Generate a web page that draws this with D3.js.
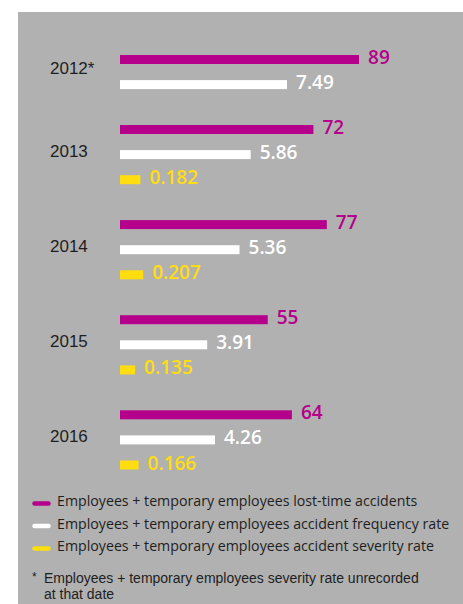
<!DOCTYPE html>
<html>
<head>
<meta charset="utf-8">
<script src="https://cdn.jsdelivr.net/npm/d3@7"></script>
<style>
  html, body { margin: 0; padding: 0; background: #ffffff; }
  svg { display: block; }
  text { font-family: "Liberation Sans", Arial, sans-serif; }
  .leg { font-family: "Open Sans", "Liberation Sans", sans-serif; }
  .val { font-family: "Open Sans", "Liberation Sans", sans-serif; }
</style>
</head>
<body>
<script>
// ---- data ----
const years = ["2012*", "2013", "2014", "2015", "2016"];
const lostTimeAccidents = [89, 72, 77, 55, 64];
const frequencyRate = [7.49, 5.86, 5.36, 3.91, 4.26];
const severityRate = [null, 0.182, 0.207, 0.135, 0.166];
const severityLabels = [null, "0.182", "0.207", "0.135", "0.166"];
const frequencyLabels = ["7.49", "5.86", "5.36", "3.91", "4.26"];
const seriesNames = [
  "Employees + temporary employees lost-time accidents",
  "Employees + temporary employees accident frequency rate",
  "Employees + temporary employees accident severity rate"
];
const seriesColors = ["#b4008a", "#ffffff", "#ffdd0f"];
const footnoteLines = [
  "Employees + temporary employees severity rate unrecorded",
  "at that date"
];

// ---- layout ----
const W = 463, H = 604;
const svg = d3.select("body").append("svg").attr("width", W).attr("height", H);

svg.append("rect").attr("x", 18).attr("y", 12).attr("width", W - 18).attr("height", H - 12).attr("fill", "#b1b1b1");

const barX0 = 120;
const barH = 9;
const rowPitch = 25.1, groupGap = 19.8;

const xScales = [
  d3.scaleLinear().domain([0, 100]).range([0, 268.6]),
  d3.scaleLinear().domain([0, 10]).range([0, 223]),
  d3.scaleLinear().domain([0, 1]).range([0, 112])
];
const yScale = d3.scaleLinear().domain([0, 1]).range([55, 55 + rowPitch]);

// build rows
const rows = [];
let rowIdx = 0;
years.forEach((yr, gi) => {
  const vals = [lostTimeAccidents[gi], frequencyRate[gi], severityRate[gi]];
  const labs = [String(lostTimeAccidents[gi]), frequencyLabels[gi], severityLabels[gi]];
  vals.forEach((v, si) => {
    if (v == null) return;
    rows.push({ year: yr, group: gi, series: si, value: v, label: labs[si],
                slot: rowIdx + gi * (groupGap / rowPitch) });
    rowIdx++;
  });
});

const g = svg.append("g");

g.selectAll("rect.bar").data(rows).enter().append("rect")
  .attr("class", "bar")
  .attr("x", barX0)
  .attr("y", d => yScale(d.slot))
  .attr("width", d => xScales[d.series](d.value))
  .attr("height", barH)
  .attr("fill", d => seriesColors[d.series]);

g.selectAll("text.val").data(rows).enter().append("text")
  .attr("class", "val")
  .attr("x", d => barX0 + xScales[d.series](d.value) + 9)
  .attr("y", d => yScale(d.slot) + barH)
  .attr("font-size", 19)
  .attr("font-weight", 600)
  .attr("fill", d => seriesColors[d.series])
  .text(d => d.label);

// year labels
const groups = d3.groups(rows, d => d.group);
g.selectAll("text.year").data(groups).enter().append("text")
  .attr("class", "year")
  .attr("x", 50)
  .attr("y", ([gi, rs]) => d3.mean(rs, r => yScale(r.slot)) + barH / 2 + 2)
  .attr("font-size", 17)
  .attr("fill", "#1e1e1e")
  .text(([gi]) => years[gi]);

// legend
const legY = d3.scaleLinear().domain([0, 1]).range([503.5, 526]);
const leg = svg.append("g");
seriesNames.forEach((name, i) => {
  leg.append("line")
    .attr("x1", 34.5).attr("x2", 48.5)
    .attr("y1", legY(i)).attr("y2", legY(i))
    .attr("stroke", seriesColors[i])
    .attr("stroke-width", 4.5)
    .attr("stroke-linecap", "round");
  leg.append("text")
    .attr("class", "leg")
    .attr("x", 57).attr("y", legY(i) + 2.8)
    .attr("font-size", 14.2)
    .attr("fill", "#1e1e1e")
    .text(name);
});

// footnote
svg.append("text").attr("x", 32).attr("y", 581)
  .attr("font-size", 12).attr("fill", "#1e1e1e").text("*");
footnoteLines.forEach((t, i) => {
  svg.append("text").attr("x", 44).attr("y", 582.5 + i * 16.5)
    .attr("font-size", 14).attr("fill", "#1e1e1e").text(t);
});
</script>
</body>
</html>
